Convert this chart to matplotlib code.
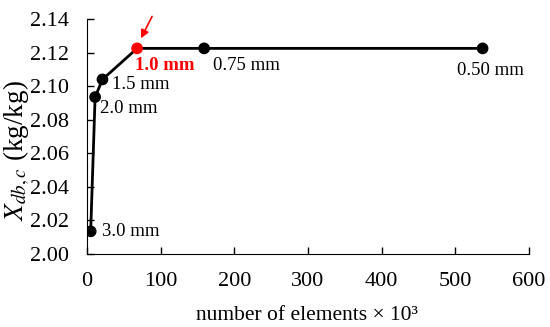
import matplotlib
matplotlib.use("Agg")
import matplotlib.pyplot as plt

# data
elements = [5, 11, 21, 68, 159, 537]          # x 10^3
xdb = [2.0135, 2.0935, 2.104, 2.1225, 2.1225, 2.1225]
mesh_labels = ['3.0 mm', '2.0 mm', '1.5 mm', '1.0 mm', '0.75 mm', '0.50 mm']
highlight = 3

plt.rcParams['font.family'] = ['Liberation Serif', 'DejaVu Serif']
plt.rcParams['mathtext.fontset'] = 'stix'

fig = plt.figure(figsize=(5.5, 3.27), dpi=100)
ax = fig.add_axes([87/550, 1 - 254/327, 442/550, 235/327])

ax.plot(elements, xdb, color='black', lw=2, zorder=2)
colors = ['red' if i == highlight else 'black' for i in range(len(elements))]
ax.scatter(elements, xdb, s=55, c=colors, zorder=3)

# label offsets in points
offsets = [(8, 0), (3.6, -8), (7, -3.6), (-1.5, -12.5), (6.5, -12.5), (6, -16)]
for i, (x, y, lab) in enumerate(zip(elements, xdb, mesh_labels)):
    dx, dy = offsets[i]
    ha = 'center' if i == 5 else 'left'
    if i == highlight:
        ax.annotate(lab, (x, y), xytext=(dx, dy), textcoords='offset points',
                    ha=ha, va='center', fontsize=13.5, color='red', fontweight='bold')
    else:
        ax.annotate(lab, (x, y), xytext=(dx, dy), textcoords='offset points',
                    ha=ha, va='center', fontsize=13.5)

ax.annotate('', xy=(71.5, 2.127), xytext=(90, 2.143), annotation_clip=False,
            arrowprops=dict(arrowstyle='-|>', color='red', lw=1.2, mutation_scale=12))

ax.set_xlim(0, 600)
ax.set_ylim(2.00, 2.14)
ax.set_xticks(range(0, 601, 100))
ax.set_yticks([2.00, 2.02, 2.04, 2.06, 2.08, 2.10, 2.12, 2.14])
ax.yaxis.set_major_formatter(matplotlib.ticker.FormatStrFormatter('%.2f'))
ax.tick_params(direction='in', labelsize=16, length=5, width=1, pad=13)
ax.spines['top'].set_visible(False)
ax.spines['right'].set_visible(False)
ax.set_xlabel('number of elements × 10³', fontsize=15.5)
ax.xaxis.set_label_coords((307 - 87) / 442, -(306 - 254) / 235)
ax.set_ylabel('$X_{db,c}$ (kg/kg)', fontsize=19.5)
ax.yaxis.set_label_coords((32 - 87) / 442, (254 - 151) / 235)

fig.savefig('out.png', dpi=100)
